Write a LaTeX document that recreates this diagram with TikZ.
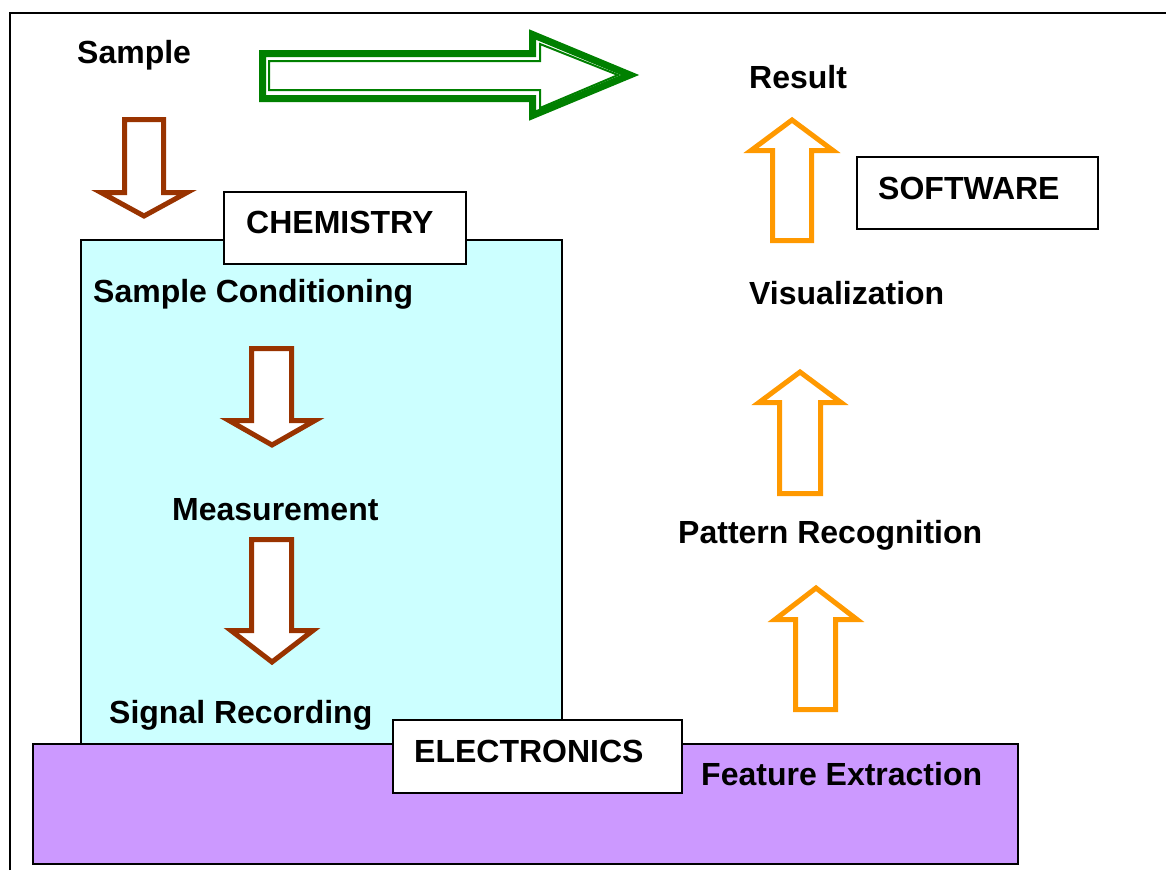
\documentclass[tikz,border=0pt]{standalone}
\usepackage{fontspec}
\setmainfont{Liberation Sans}
\definecolor{cyanbox}{HTML}{CCFFFF}
\definecolor{purplebox}{HTML}{CC99FF}
\definecolor{brownarr}{HTML}{993300}
\definecolor{orangearr}{HTML}{FF9900}
\definecolor{greenarr}{HTML}{008000}
\newcommand\dnarrow[8]{%
  \filldraw[brownstyle] (#1,#3) -- (#2,#3) -- (#2,#4) -- (#6,#4) -- (#7,#8) -- (#5,#4) -- (#1,#4) -- cycle;}
\newcommand\uparrowshape[8]{%
  \filldraw[orangestyle] (#1,#3) -- (#2,#3) -- (#2,#4) -- (#6,#4) -- (#7,#8) -- (#5,#4) -- (#1,#4) -- cycle;}
\begin{document}
\begin{tikzpicture}[x=1pt,y=-1pt,
  lbl/.style={anchor=base west, inner sep=0pt, font=\fontsize{32}{38}\selectfont\bfseries},
  labelbox/.style={draw=black, line width=2pt, fill=white},
  brownstyle/.style={draw=brownarr, fill=white, line width=5pt, miter limit=12},
  orangestyle/.style={draw=orangearr, fill=white, line width=5pt, miter limit=12}]
\useasboundingbox (0,0) rectangle (1166,870);
% frame
\draw[line width=2.5pt] (10,870) -- (10,13) -- (1170,13);
% regions
\filldraw[fill=cyanbox, draw=black, line width=1.5pt] (81,240) rectangle (562,744);
\filldraw[fill=purplebox, draw=black, line width=2pt] (33,744) rectangle (1018,864);
\filldraw[labelbox] (393,720) rectangle (682,793);
\filldraw[labelbox] (224,192) rectangle (466,264);
\filldraw[labelbox] (857,157) rectangle (1098,229);
% green arrow
\draw[draw=greenarr, line width=7pt, miter limit=12, fill=white]
  (262.5,53.5) -- (532.5,53.5) -- (532.5,34.5) -- (630,75) -- (532.5,115.5) -- (532.5,98.5) -- (262.5,98.5) -- cycle;
\draw[draw=greenarr, line width=2pt, miter limit=12]
  (269,61) -- (540,61) -- (540,44) -- (618,75) -- (540,108) -- (540,90) -- (269,90) -- cycle;
% brown arrows
\dnarrow{124.5}{163.5}{119.5}{192.5}{101}{187}{144}{216}
\dnarrow{251.5}{291.5}{348.5}{420.5}{229}{315}{272}{445}
\dnarrow{251.5}{291.5}{539.5}{630.5}{231}{313}{272}{662}
% orange arrows
\uparrowshape{772.5}{811.5}{240.5}{150.5}{751}{833}{792}{120}
\uparrowshape{779.5}{820.5}{493.5}{402.5}{759}{841}{800}{372}
\uparrowshape{795.5}{835.5}{709.5}{619.5}{775}{857}{816}{588}
% texts
\node[lbl] (sample) at (77,63) {Sample};
\node[lbl] (result) at (749,88) {Result};
\node[lbl] (chem) at (246,233) {CHEMISTRY};
\node[lbl] (soft) at (878,199) {SOFTWARE};
\node[lbl] (cond) at (93,302) {Sample Conditioning};
\node[lbl] (vis) at (749,304) {Visualization};
\node[lbl] (meas) at (172,520) {Measurement};
\node[lbl] (patt) at (678,543) {Pattern Recognition};
\node[lbl] (sig) at (109,723) {Signal Recording};
\node[lbl] (elec) at (414,762) {ELECTRONICS};
\node[lbl] (feat) at (701,785) {Feature Extraction};
\end{tikzpicture}
\end{document}
